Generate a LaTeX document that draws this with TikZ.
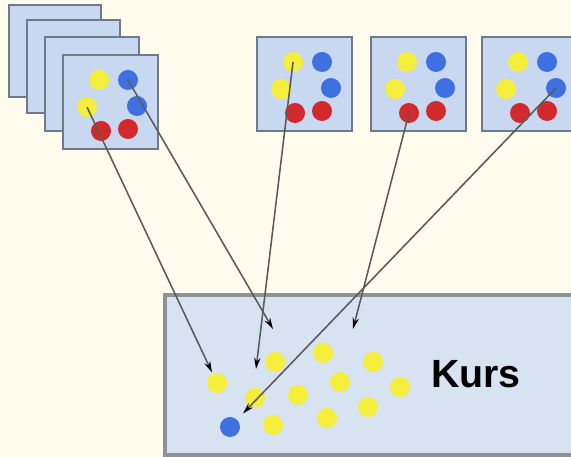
\documentclass[tikz,border=0pt]{standalone}
\usepackage{fontspec}
\setsansfont{Liberation Sans}
\usepackage{tikz}
\usetikzlibrary{arrows.meta, positioning, calc}
\definecolor{cream}{HTML}{FFFCEE}
\definecolor{cardfill}{HTML}{C9D8F1}
\definecolor{cardline}{HTML}{6E7A8A}
\definecolor{kursfill}{HTML}{D8E3F2}
\definecolor{kursline}{HTML}{8C929A}
\definecolor{dotyellow}{HTML}{F6EE3C}
\definecolor{dotblue}{HTML}{3E70E2}
\definecolor{dotred}{HTML}{D2292C}
\definecolor{linkgray}{HTML}{5A5A5A}
\tikzset{
    card/.style={draw=cardline, fill=cardfill, line width=2pt},
    kurs/.style={draw=kursline, fill=kursfill, line width=2.2pt},
    dot/.style={circle, inner sep=0pt, minimum size=0.5cm},
    ydot/.style={dot, fill=dotyellow},
    bdot/.style={dot, fill=dotblue},
    rdot/.style={dot, fill=dotred},
    link/.style={draw=linkgray, line width=1.1pt, -{Stealth[length=8pt, width=4.5pt, black]}}
}

\begin{document}
\begin{tikzpicture}[x=0.025cm, y=-0.025cm]
    \useasboundingbox (0,0) rectangle (571,457);
    \clip (0,0) rectangle (571,457);
    \fill[cream] (0,0) rectangle (571,457);
    % Stack of cards behind
    \draw[card] (9,5) rectangle ++(92,92);
    \draw[card] (27,20) rectangle ++(93,93);
    \draw[card] (45,37) rectangle ++(94,94);
    % Cards with dots (front card and the three on top)
    \foreach \nm/\x/\y in {f/63/55, a/257/37, b/371/37, c/482/37} {
        \begin{scope}[shift={(\x,\y)}]
            \draw[card] (0,0) rectangle (95,94);
            \node[ydot] (\nm-y1) at (36,25) {};
            \node[bdot] (\nm-b1) at (65,25) {};
            \node[ydot] (\nm-y2) at (24,52) {};
            \node[bdot] (\nm-b2) at (74,51) {};
            \node[rdot] (\nm-r1) at (38,76) {};
            \node[rdot] (\nm-r2) at (65,74) {};
        \end{scope}
    }
    % Kurs box
    \draw[kurs] (165,295) rectangle (600,455);
    \node[font=\sffamily\bfseries\fontsize{28}{30}\selectfont] (kurs) at (476,374) {Kurs};
    \node[ydot] (k1) at (217,383) {};
    \node[ydot] (k2) at (275,362) {};
    \node[ydot] (k3) at (323,353) {};
    \node[ydot] (k4) at (373,362) {};
    \node[ydot] (k5) at (255,398) {};
    \node[ydot] (k6) at (298,395) {};
    \node[ydot] (k7) at (340,382) {};
    \node[ydot] (k8) at (400,387) {};
    \node[ydot] (k9) at (273,425) {};
    \node[ydot] (k10) at (327,418) {};
    \node[ydot] (k11) at (368,407) {};
    \node[bdot] (kb) at (230,427) {};
    % Free ends of the arrows
    \coordinate (e2) at (273,329);
    \coordinate (e3) at (256,369);
    \coordinate (e4) at (353,329);
    % Arrows
    \draw[link, shorten >=1pt] (f-y2.center) -- (k1);
    \draw[link] (f-b1.center) -- (e2);
    \draw[link] (a-y1.center) -- (e3);
    \draw[link] (b-r1.center) -- (e4);
    \draw[link, shorten >=6pt] (c-b2.center) -- (kb);
\end{tikzpicture}
\end{document}
